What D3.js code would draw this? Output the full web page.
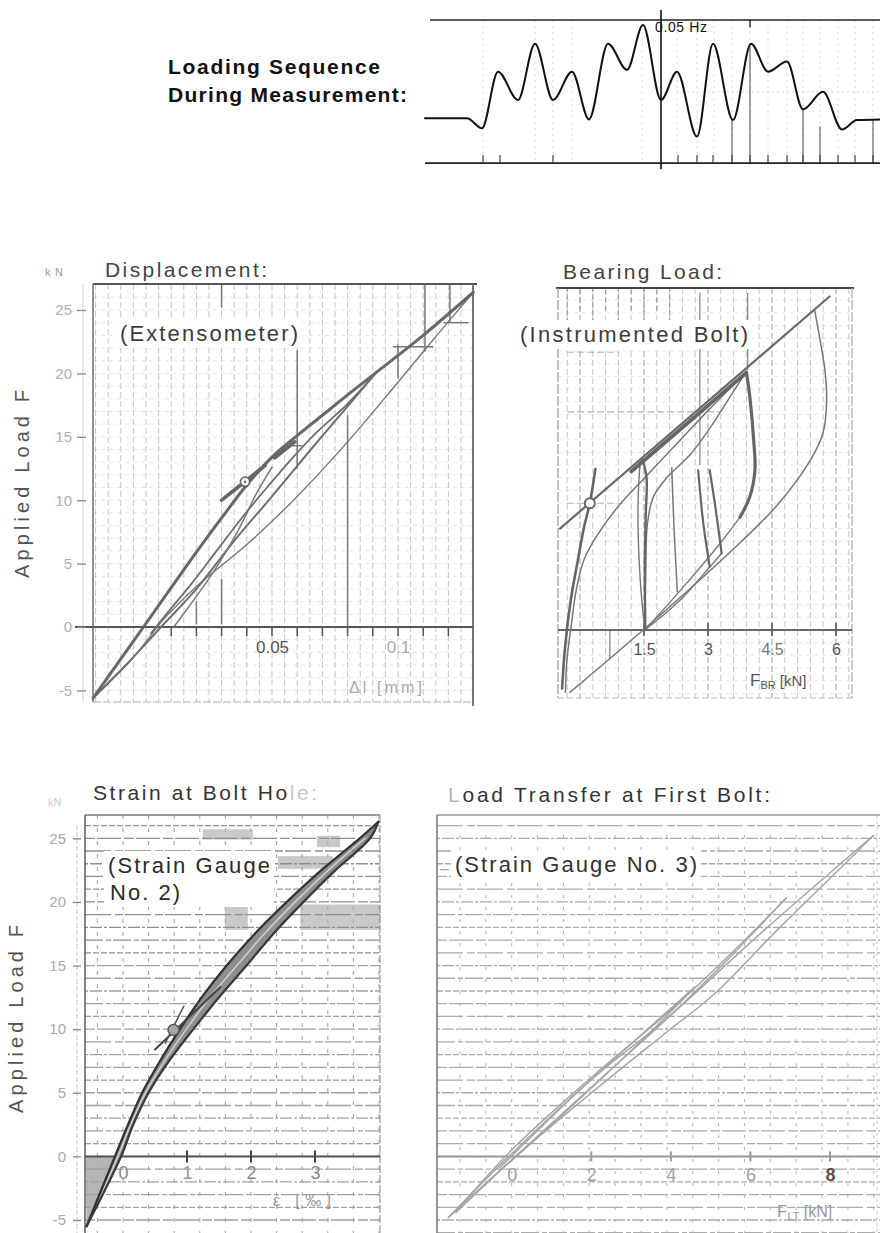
<!DOCTYPE html>
<html><head><meta charset="utf-8"><title>Loading sequence and hysteresis records</title>
<script src="https://cdn.jsdelivr.net/npm/d3@7/dist/d3.min.js"></script>
<style>html,body{margin:0;padding:0;background:#fff}svg{display:block}</style>
</head><body>
<svg id="chart" width="880" height="1233"></svg>
<script>
// ================= DATA =================
// Loading sequence (time units, load kN)
const seqTime = [5,47,62,78,98,115,133,152,169,188,207,223,241,257,277,293,313,331,348,367,383,403,422,437,460];
const seqLoad = [0,0,-2.8,13.0,5.1,20.8,5.1,13.0,-0.3,20.8,13.5,26.0,5.1,13.0,-5.1,20.8,-0.5,20.8,13.0,15.8,2.5,7.4,-3.1,-0.5,-0.3];
const seqGridTimes = [63,115,133,152,222,257,277,294,312,330,348,367,383,400,418,435,453];
const seqTickTimes = [63,80,133,258,277,293,312,330,348,367,383,400,418,435,453];
const seqDropLines = [[312,-0.5],[330,20.8],[383,2.5],[400,-2.2],[453,-0.3]];
const seqMarkerTime = 241;
const seqLabel = "0.05 Hz";

// Shared load axis
const loadTicks = [-5,0,5,10,15,20,25];
const loadTickLabels = ["-5","0","5","10","15","20","25"];

// Displacement (extensometer): x = Δl [mm], y = F [kN]
const dispEnvelope = [[-0.021,-5.6],[-0.001,0],[0.010,3.1],[0.020,5.9],[0.030,8.6],[0.040,11.2],[0.050,13.4],[0.060,15.1],[0.070,16.7],[0.080,18.3],[0.0915,20.1],[0.110,23.0],[0.1299,26.4]];
const dispUnload26 = [[0.1299,26.4],[0.115,22.9],[0.100,19.3],[0.080,14.6],[0.060,10.3],[0.040,6.5],[0.020,3.2],[0.007,0.6],[-0.005,-2.4],[-0.021,-5.6]];
const dispUnload20a = [[0.0915,20.1],[0.080,17.4],[0.065,13.9],[0.050,10.3],[0.035,6.8],[0.020,3.0],[0.006,0],[-0.008,-3.0],[-0.021,-5.6]];
const dispUnload20b = [[0.0915,20.1],[0.080,17.6],[0.068,15.4],[0.058,13.3],[0.048,11.0],[0.038,8.6],[0.028,6.0],[0.018,3.4],[0.008,1.0],[0.002,-0.5]];
const dispUnload13 = [[0.050,12.6],[0.044,10.6],[0.036,7.4],[0.027,4.4],[0.017,1.6],[0.011,0]];
const dispTangent = [[0.030,10.0],[0.059,14.6]];
const dispMarker = [0.0393,11.45];
const dispXTicks = [0.05,0.1];
const dispXTickLabels = ["0.05","0.1"];
const dispMinorTicks = [0.01,0.02,0.03,0.04,0.05,0.06,0.07,0.08,0.09,0.1,0.11,0.12];
const dispDarkV = [[0.02,0.2,2.0],[0.03,0.2,3.8],[0.03,25.2,27.0],[0.06,12.5,21.8],[0.08,0,16.7],[0.1,19.6,22.3],[0.1107,21.7,27.0],[0.1206,24.0,27.0]];
const dispDarkH = [[0.098,0.114,22.1],[0.118,0.128,24.0],[0.058,0.062,14.3]];

// Bearing load (instrumented bolt): x = F_BR [kN], y = F [kN]
const bearEnvelope = [[-0.47,8.0],[5.85,26.3]];
const bearEnvelopeBold = [[1.2,12.5],[3.9,20.3]];
const bearLeftCurve = [[-0.42,-4.6],[-0.34,-1.0],[-0.21,2.5],[-0.05,5.5],[0.10,8.2],[0.23,10.0],[0.36,12.7]];
const bearSecond = [[-0.34,-4.9],[-0.31,-2.5],[-0.20,0.5],[-0.08,3.3],[0.10,5.6],[0.39,7.4],[0.86,9.6],[1.6,12.3],[2.3,14.8],[3.0,17.3],[3.5,19.0],[3.9,20.4]];
const bearLoad15 = [[1.52,0],[1.54,4.5],[1.58,8.4],[1.72,10.5],[2.03,12.0],[2.6,13.9],[3.1,16.2],[3.5,18.3],[3.9,20.4]];
const bearUnload15a = [[1.41,13.3],[1.37,11.0],[1.36,8.0],[1.42,3.5],[1.52,0]];
const bearUnload15b = [[1.47,13.4],[1.56,12.0],[1.54,9.0],[1.52,5.0],[1.53,0]];
const bearStroke22 = [[2.15,12.8],[2.2,8.4],[2.28,3.0]];
const bearStroke28 = [[2.77,12.6],[2.89,8.4],[3.04,5.0]];
const bearStroke31 = [[3.04,12.6],[3.16,10.0],[3.32,6.05]];
const bearUnload20 = [[3.90,20.3],[3.98,18.4],[4.07,15.0],[4.10,12.6],[3.98,10.5],[3.75,8.9]];
const bearDiag1 = [[3.75,8.9],[3.3,6.9],[2.4,3.3],[1.52,0]];
const bearDiag2 = [[3.32,6.05],[3.05,5.0],[2.3,2.2],[1.52,0]];
const bearOuter = [[5.50,25.2],[5.62,23.0],[5.74,20.5],[5.78,18.0],[5.70,15.6],[5.40,13.4],[4.61,9.8],[3.44,5.9],[1.48,0],[-0.23,-4.9]];
const bearMarker = [0.23,10.0];
const bearXTicks = [1.5,3,4.5,6];
const bearXTickLabels = ["1.5","3","4.5","6"];
const bearDarkV = [[0.7,-2.3,0],[3.93,20.5,26.6],[2.81,13.0,26.6]];
const bearDarkH = [[-0.3,3.0,24.4],[-0.3,0.9,21.9],[-0.3,3.3,17.2],[-0.3,1.0,10.0]];

// Strain at bolt hole (strain gauge 2): x = ε [‰], y = F [kN]
const strainUp = [[-0.57,-5.5],[-0.125,0],[0.08,2.5],[0.30,5],[0.58,7.5],[0.89,10],[1.23,12.5],[1.62,15],[2.06,17.5],[2.56,20],[3.10,22.5],[3.70,25],[3.99,26.3]];
const strainDown = [[3.99,26.3],[3.86,25],[3.32,22.5],[2.82,20],[2.35,17.5],[1.93,15],[1.50,12.5],[1.10,10],[0.72,7.5],[0.40,5],[0.16,2.5],[-0.03,0],[-0.57,-5.5]];
const strainMid = [[-0.45,-4.3],[-0.08,0],[0.12,2.5],[0.35,5],[0.65,7.5],[0.99,10],[1.36,12.5],[1.78,15],[2.21,17.5],[2.69,20],[3.21,22.5],[3.78,25]];
const strainTangent = [[0.50,8.4],[1.52,13.3]];
const strainCross = [[0.66,8.9],[0.95,11.8]];
const strainMarker = [0.79,9.94];
const strainXTicks = [0,1,2,3];
const strainXTickLabels = ["0","1","2","3"];
const strainShade = [[1.25,2.03,24.9,25.7],[2.42,3.28,22.6,23.6],[1.59,1.95,17.8,19.6],[2.77,4.02,17.8,19.8],[3.03,3.39,24.3,25.2]];
const strainShadeTri = [[-0.59,0],[-0.1,0],[-0.57,-5.5]];

// Load transfer at first bolt (strain gauge 3): x = F_LT [kN], y = F [kN]
const ltUpA = [[-1.59,-4.8],[0.04,0.35],[2.14,6.4],[3.81,10.6],[6.32,17.7],[9.08,25.2]];
const ltDownA = [[9.08,25.2],[8.67,23.9],[6.74,18.0],[5.07,12.7],[3.81,9.56],[2.14,5.35],[0.13,0.08],[-1.59,-4.8]];
const ltUpB = [[-1.4,-4.3],[0.0,0.5],[2.0,6.2],[4.0,11.5],[5.5,15.9],[6.9,20.3]];
const ltDownB = [[6.9,20.3],[5.5,15.7],[4.0,11.1],[2.2,6.0],[0.2,0.3],[-1.4,-4.4]];
const ltUpC = [[-0.3,-0.9],[1.5,4.6],[3.2,9.4],[4.6,13.3]];
const ltDownC = [[4.6,13.3],[3.4,9.5],[1.7,4.5],[-0.1,-0.6]];
const ltXTicks = [0,2,4,6,8];
const ltXTickLabels = ["0","2","4","6","8"];

// ================= DRAWING =================
const FONT = '"Liberation Sans", Arial, Helvetica, sans-serif';
const svg = d3.select("#chart").attr("font-family", FONT);
svg.append("rect").attr("width",880).attr("height",1233).attr("fill","#fff");

function seg(g,x1,y1,x2,y2,stroke,w,dash){
  return g.append("line").attr("x1",x1).attr("y1",y1).attr("x2",x2).attr("y2",y2)
    .attr("stroke",stroke).attr("stroke-width",w).attr("stroke-dasharray",dash||null);
}
function curve(g,data,x,y,stroke,w,o={}){
  const gen=d3.line().x(d=>x(d[0])).y(d=>y(d[1])).curve(o.curve||d3.curveCatmullRom.alpha(0.5));
  return g.append("path").attr("d",gen(data)).attr("fill",o.fill||"none").attr("stroke",stroke)
    .attr("stroke-width",w).attr("stroke-linecap","round").attr("stroke-linejoin","round")
    .attr("stroke-dasharray",o.dash||null);
}
function txt(g,s,x,y,o={}){
  const t=g.append("text").attr("x",x).attr("y",y).attr("font-size",o.size||16).attr("fill",o.fill||"#333")
    .attr("font-weight",o.weight||"normal").attr("text-anchor",o.anchor||"start").text(s);
  if(o.len) t.attr("textLength",o.len).attr("lengthAdjust","spacing");
  if(o.rot) t.attr("transform",`rotate(${o.rot},${x},${y})`);
  return t;
}
function boxed(g, lines, o){
  const grp=g.append("g"); const r=grp.append("rect").attr("fill","#fff");
  const ts=lines.map(([s,x,y,len])=>txt(grp,s,x,y,{size:o.size,fill:o.fill,len}));
  let x0=1e9,y0=1e9,x1=-1e9,y1=-1e9;
  ts.forEach(t=>{const b=t.node().getBBox();x0=Math.min(x0,b.x);y0=Math.min(y0,b.y);x1=Math.max(x1,b.x+b.width);y1=Math.max(y1,b.y+b.height);});
  r.attr("x",x0-o.pad).attr("y",y0-o.pad/2).attr("width",x1-x0+2*o.pad).attr("height",y1-y0+o.pad);
}
function loadAxis(g,y,xPos,tickSize,pad,size,color){
  const ax=d3.axisLeft(y).tickValues(loadTicks).tickFormat((d,i)=>loadTickLabels[i]).tickSize(tickSize).tickPadding(pad);
  const a=g.append("g").attr("transform",`translate(${xPos},0)`).call(ax);
  a.select(".domain").remove();
  a.selectAll(".tick line").attr("stroke","#8a8a8a").attr("stroke-width",1.3);
  a.selectAll(".tick text").attr("fill",color).attr("font-size",size).attr("font-family",FONT);
}
function xAxis(g,x,yPos,ticks,labels,o){
  const ax=d3.axisBottom(x).tickValues(ticks).tickFormat((d,i)=>labels[i]).tickSize(0).tickPadding(o.pad);
  const a=g.append("g").attr("transform",`translate(0,${yPos})`).call(ax);
  a.select(".domain").remove();
  a.selectAll(".tick text").attr("fill",(d,i)=>o.colors[i]).attr("font-size",o.size)
    .attr("font-weight",(d,i)=>o.weights?o.weights[i]:"normal").attr("font-family",FONT);
}
const dashes=["10,2,24,3","6,2","18,3,5,2","3,2,12,2","26,4,8,2"];

// ---------- Loading sequence ----------
{
  const g=svg.append("g");
  const sx=d3.scaleLinear().domain([0,460]).range([420,880]);
  const sy=d3.scaleLinear().domain([0,26]).range([118.3,25]);
  const top=27.4, bot=-12.5;
  seqGridTimes.forEach(t=>seg(g,sx(t),sy(top),sx(t),sy(bot),"#d4d4d4",1,"2,4"));
  seg(g,sx(257),sy(7.4),880,sy(7.4),"#dcdcdc",1,"2,3");
  seqDropLines.forEach(([t,l])=>seg(g,sx(t),sy(l),sx(t),sy(bot),"#666",1.2));
  seqTickTimes.forEach(t=>seg(g,sx(t),sy(bot+2.3),sx(t),sy(bot),"#444",1.2));
  seg(g,sx(10),sy(top),880,sy(top),"#222",1.6);
  seg(g,sx(5),sy(bot),880,sy(bot),"#222",1.6);
  seg(g,sx(seqMarkerTime),sy(30.2),sx(seqMarkerTime),sy(-14.2),"#111",1.6);
  seg(g,sx(330),sy(top),sx(330),sy(25.4),"#222",1.4);
  curve(g,seqTime.map((t,i)=>[t,seqLoad[i]]),sx,sy,"#111",2,{curve:d3.curveMonotoneX});
  txt(g,seqLabel,655,32,{size:14,fill:"#111",len:52});
  txt(svg,"Loading Sequence",168,74,{size:21,weight:"bold",fill:"#111",len:212});
  txt(svg,"During Measurement:",168,102,{size:21,weight:"bold",fill:"#111",len:239});
}

// ---------- Displacement ----------
{
  const g=svg.append("g");
  const x=d3.scaleLinear().domain([0,0.1]).range([146,398]);
  const y=d3.scaleLinear().domain([-5,25]).range([690.4,310]);
  const F={x0:93,x1:473,y0:284,y1:702};
  d3.range(-5,27,1).forEach(v=>seg(g,F.x0,y(v),F.x1,y(v),"#e6e6e6",1,"4,4"));
  d3.range(-0.02,0.1251,0.005).forEach(v=>{ if(x(v)>F.x0+1&&x(v)<F.x1-1) seg(g,x(v),F.y0,x(v),F.y1,"#c6c6c6",1,"6,3"); });
  dispDarkV.forEach(([v,a,b])=>seg(g,x(v),y(a),x(v),y(b),"#777",1.5));
  dispDarkH.forEach(([a,b,v])=>seg(g,x(a),y(v),x(b),y(v),"#777",1.5));
  seg(g,F.x0,F.y0,F.x1+4,F.y0,"#555",2);
  seg(g,F.x0,F.y0,F.x0,F.y1,"#777",1.6);
  seg(g,F.x1,F.y0,F.x1,F.y1+4,"#666",1.8);
  seg(g,F.x0,F.y1,F.x1,F.y1,"#b0b0b0",1.2,"8,2");
  seg(g,83,F.y0,83,F.y1,"#cfcfcf",1);
  seg(g,75,y(0),F.x1,y(0),"#555",2);
  dispMinorTicks.forEach(v=>seg(g,x(v),y(0),x(v),y(0)+9,"#555",1.5));
  loadAxis(g,y,86,9,5,15,"#b0b0b0");
  xAxis(g,x,y(0),dispXTicks,dispXTickLabels,{pad:14,size:17,colors:["#555","#aaa"]});
  txt(g,"\u0394l [mm]",349,693,{size:16,fill:"#aaa",len:73});
  txt(g,"kN",45,276,{size:11,fill:"#999",len:18});
  curve(g,dispUnload26,x,y,"#777",1.4);
  curve(g,dispUnload20a,x,y,"#6e6e6e",2);
  curve(g,dispUnload13,x,y,"#7a7a7a",1.5);
  curve(g,dispUnload20b,x,y,"#6e6e6e",1.8);
  curve(g,dispEnvelope,x,y,"#686868",3);
  curve(g,dispTangent,x,y,"#666",3.6,{curve:d3.curveLinear,dash:"30,6,20,12,40"});
  g.append("circle").attr("cx",x(dispMarker[0])).attr("cy",y(dispMarker[1])).attr("r",4.6).attr("fill","#fff").attr("stroke","#666").attr("stroke-width",1.7);
  g.append("circle").attr("cx",x(dispMarker[0])).attr("cy",y(dispMarker[1])).attr("r",1.2).attr("fill","#666");
  txt(g,"Displacement:",105,277,{size:21,fill:"#444",len:162});
  boxed(g,[["(Extensometer)",120,341,178]],{size:22,fill:"#3c3c3c",pad:4});
}

// ---------- Bearing load ----------
{
  const g=svg.append("g");
  const x=d3.scaleLinear().domain([0,6]).range([580,836]);
  const y=d3.scaleLinear().domain([-5,25]).range([693.4,313]);
  const F={x0:558,x1:852,y0:288,y1:698};
  d3.range(-5,27,1).forEach(v=>seg(g,F.x0,y(v),F.x1,y(v),"#e8e8e8",1,"4,4"));
  d3.range(-0.3,6.61,0.3).forEach((v,i)=>{ if(x(v)<F.x1-1){
    const major=Math.abs(v/1.5-Math.round(v/1.5))<0.01;
    seg(g,x(v),F.y0,x(v),F.y1,major?"#b4b4b4":"#c8c8c8",major?1.3:1,"6,3");
    if(v<2.2) seg(g,x(v),y(i%2?25.2:24.2),x(v),F.y0,"#9a9a9a",1.2,"5,3");
  }});
  bearDarkV.forEach(([v,a,b])=>seg(g,x(v),y(a),x(v),y(b),"#8a8a8a",1.3));
  bearDarkH.forEach(([a,b,v])=>seg(g,x(a),y(v),x(b),y(v),"#b4b4b4",1.1,"7,3"));
  seg(g,F.x0-2,F.y0,F.x1+2,F.y0,"#444",2);
  seg(g,F.x0,F.y0,F.x0,F.y1,"#999",1.2,"10,2");
  seg(g,F.x1,F.y0,F.x1,F.y1,"#aaa",1.2,"10,2");
  seg(g,F.x0,F.y1,F.x1,F.y1,"#bbb",1.2,"6,3");
  seg(g,F.x0,y(0),F.x1,y(0),"#666",1.8);
  bearXTicks.forEach(v=>seg(g,x(v),y(0)-7,x(v),y(0)+6,"#555",1.6));
  xAxis(g,x,y(0),bearXTicks,bearXTickLabels,{pad:14,size:16,colors:["#555","#555","#777","#555"]});
  const fl=g.append("text").attr("x",750).attr("y",686).attr("fill","#555").attr("font-size",17);
  fl.append("tspan").text("F");
  fl.append("tspan").attr("font-size",11).attr("dy",3).text("BR");
  fl.append("tspan").attr("font-size",15).attr("dy",-3).text(" [kN]");
  curve(g,bearOuter,x,y,"#777",1.5);
  curve(g,bearDiag1,x,y,"#777",1.4);
  curve(g,bearDiag2,x,y,"#777",1.4);
  curve(g,bearSecond,x,y,"#777",1.5);
  curve(g,bearLoad15,x,y,"#777",1.5);
  curve(g,bearUnload15a,x,y,"#777",1.4);
  curve(g,bearUnload15b,x,y,"#666",2.4);
  curve(g,bearStroke22,x,y,"#777",1.5);
  curve(g,bearStroke28,x,y,"#666",2.2);
  curve(g,bearStroke31,x,y,"#666",2.2);
  curve(g,bearUnload20,x,y,"#666",3.2);
  curve(g,bearLeftCurve,x,y,"#666",2.6);
  curve(g,bearEnvelope,x,y,"#6a6a6a",2.2,{curve:d3.curveLinear});
  curve(g,bearEnvelopeBold,x,y,"#666",3.8,{curve:d3.curveLinear});
  g.append("circle").attr("cx",x(bearMarker[0])).attr("cy",y(bearMarker[1])).attr("r",5).attr("fill","#fff").attr("stroke","#666").attr("stroke-width",2);
  txt(g,"Bearing Load:",563,279,{size:21,fill:"#444",len:159});
  boxed(g,[["(Instrumented Bolt)",520,342,228]],{size:22,fill:"#3c3c3c",pad:4});
}

// ---------- Strain at bolt hole ----------
{
  const g=svg.append("g");
  const x=d3.scaleLinear().domain([0,3]).range([123,315]);
  const y=d3.scaleLinear().domain([-5,25]).range([1220,838.3]);
  const F={x0:85,x1:380,y0:815,y1:1233};
  strainShade.forEach(([a,b,c,d])=>g.append("rect").attr("x",x(a)).attr("y",y(d)).attr("width",x(b)-x(a)).attr("height",y(c)-y(d)).attr("fill","#c9c9c9"));
  g.append("path").attr("d",d3.line().x(d=>x(d[0])).y(d=>y(d[1]))(strainShadeTri)+"Z").attr("fill","#b5b5b5");
  d3.range(-0.4,4.01,0.4).forEach(v=>seg(g,x(v),F.y0,x(v),F.y1,"#a8a8a8",1.1,"4,9"));
  d3.range(-5,27,1).forEach((v,i)=>seg(g,F.x0,y(v),F.x1,y(v),v>15?"#8f8f8f":"#a0a0a0",1.3,dashes[i%dashes.length]));
  seg(g,F.x0,F.y0,F.x1,F.y0,"#777",1.6);
  seg(g,F.x0,F.y0,F.x0,F.y1,"#666",1.6);
  seg(g,F.x1,F.y0,F.x1,F.y1,"#999",1.2,"8,2");
  seg(g,77,F.y0+10,77,F.y1,"#c4c4c4",1,"5,2");
  seg(g,F.x0,y(0),F.x1,y(0),"#555",2);
  strainXTicks.slice(1).forEach(v=>seg(g,x(v),y(0)-6,x(v),y(0)+6,"#444",2));
  loadAxis(g,y,81,8,7,15,"#aaa");
  xAxis(g,x,y(0),strainXTicks,strainXTickLabels,{pad:10,size:18,colors:["#888","#999","#888","#888"]});
  txt(g,"\u03b5 [\u2030]",273,1206,{size:16,fill:"#999",len:58});
  txt(g,"kN",48,806,{size:11,fill:"#ccc"});
  const band=strainUp.concat(strainDown.slice(1));
  curve(g,band,x,y,"none",0,{fill:"#8e8e8e"});
  curve(g,strainMid,x,y,"#cdcdcd",1.6);
  curve(g,strainUp,x,y,"#333",2.3);
  curve(g,strainDown,x,y,"#3a3a3a",2.3);
  curve(g,strainTangent,x,y,"#444",2,{curve:d3.curveLinear});
  curve(g,strainCross,x,y,"#555",1.6,{curve:d3.curveLinear});
  g.append("circle").attr("cx",x(strainMarker[0])).attr("cy",y(strainMarker[1])).attr("r",5.5).attr("fill","#a6a6a6").attr("stroke","#555").attr("stroke-width",1.5);
  const t=g.append("text").attr("x",93).attr("y",800).attr("font-size",21).attr("textLength",224).attr("lengthAdjust","spacing");
  t.append("tspan").attr("fill","#333").text("Strain at Bolt Ho");
  t.append("tspan").attr("fill","#c8c8c8").text("le:");
  boxed(g,[["(Strain Gauge",108,873,162],["No. 2)",110,900,70]],{size:22,fill:"#2a2a2a",pad:4});
}

// ---------- Load transfer at first bolt ----------
{
  const g=svg.append("g");
  const x=d3.scaleLinear().domain([0,8]).range([511.7,830]);
  const y=d3.scaleLinear().domain([-5,25]).range([1220,838.3]);
  const F={x0:437,x1:880,y0:815,y1:1233};
  d3.range(-1.3,9.6,0.65).forEach(v=>seg(g,x(v),F.y0+20,x(v),F.y1,"#b8b8b8",1.1,"3,9"));
  d3.range(-6,27,1).forEach((v,i)=>seg(g,F.x0,y(v),F.x1,y(v),"#aaaaaa",1.3,dashes[(i+2)%dashes.length]));
  seg(g,F.x0,F.y0,F.x1,F.y0,"#999",1.6);
  seg(g,F.x0,F.y0,F.x0,F.y1,"#888",1.8);
  seg(g,877,F.y0,877,F.y1,"#c8c8c8",1,"3,3");
  seg(g,F.x0,y(0),F.x1,y(0),"#999",2);
  ltXTicks.slice(1).forEach(v=>seg(g,x(v),y(0)-5,x(v),y(0)+5,"#999",2));
  xAxis(g,x,y(0),ltXTicks,ltXTickLabels,{pad:12,size:18,colors:["#999","#a0a0a0","#a0a0a0","#a0a0a0","#555"],weights:["normal","normal","normal","normal","bold"]});
  const fl=g.append("text").attr("x",777).attr("y",1217).attr("fill","#999").attr("font-size",17);
  fl.append("tspan").text("F");
  fl.append("tspan").attr("font-size",11).attr("dy",3).text("LT");
  fl.append("tspan").attr("font-size",16).attr("dy",-3).text(" [kN]");
  [ltUpA,ltDownA,ltUpB,ltDownB,ltUpC,ltDownC].forEach(d=>curve(g,d,x,y,"#a6a6a6",1.5));
  txt(g,"\u2013",440,874,{size:16,fill:"#aaa"});
  const t=g.append("text").attr("x",448).attr("y",802).attr("font-size",21).attr("textLength",322).attr("lengthAdjust","spacing");
  t.append("tspan").attr("fill","#b5b5b5").text("L");
  t.append("tspan").attr("fill","#333").text("oad Transfer at First Bolt:");
  boxed(g,[["(Strain Gauge No. 3)",455,872,242]],{size:22,fill:"#333",pad:4});
}

// ---------- Shared axis titles ----------
txt(svg,"Applied Load F",29,484,{size:20,fill:"#555",anchor:"middle",len:188,rot:-90});
txt(svg,"Applied Load F",23,1019,{size:20,fill:"#555",anchor:"middle",len:188,rot:-90});
</script></body></html>
